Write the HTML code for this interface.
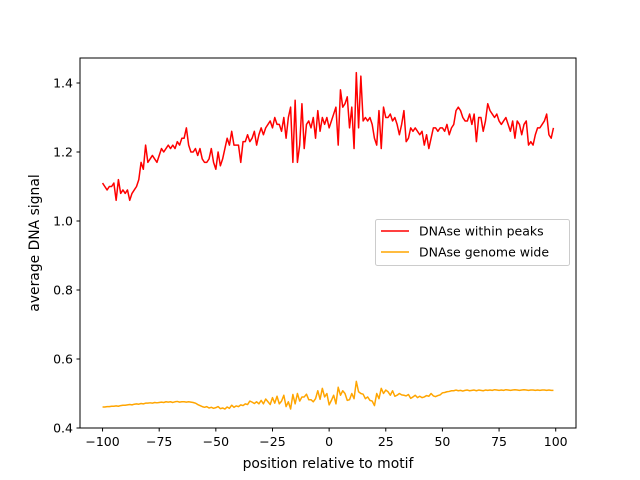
<!DOCTYPE html>
<html><head><meta charset="utf-8"><style>
body{margin:0;background:#fff;}
svg{display:block;font-family:"DejaVu Sans","Liberation Sans",sans-serif;}
</style></head><body>
<svg id="chart" width="640" height="480"></svg>
<script>
const xStart = -100;
const peaks = [
1.11,1.10,1.09,1.10,1.10,1.11,1.06,1.12,1.08,1.09,
1.08,1.09,1.06,1.08,1.09,1.10,1.12,1.17,1.15,1.22,
1.17,1.18,1.19,1.18,1.17,1.19,1.21,1.20,1.21,1.22,
1.21,1.22,1.21,1.23,1.22,1.24,1.24,1.27,1.22,1.20,
1.20,1.21,1.19,1.21,1.18,1.17,1.17,1.18,1.21,1.17,
1.15,1.20,1.16,1.18,1.21,1.24,1.22,1.26,1.22,1.22,
1.22,1.17,1.23,1.23,1.25,1.23,1.24,1.26,1.22,1.25,
1.27,1.25,1.27,1.28,1.29,1.27,1.30,1.28,1.28,1.26,
1.30,1.24,1.30,1.33,1.17,1.35,1.17,1.22,1.34,1.21,
1.28,1.29,1.27,1.30,1.24,1.32,1.26,1.30,1.28,1.30,
1.27,1.29,1.31,1.33,1.22,1.38,1.33,1.34,1.36,1.27,
1.33,1.21,1.43,1.27,1.42,1.29,1.30,1.29,1.30,1.28,
1.24,1.22,1.32,1.21,1.33,1.30,1.30,1.31,1.29,1.30,
1.28,1.25,1.28,1.32,1.23,1.24,1.27,1.26,1.27,1.26,
1.25,1.26,1.22,1.25,1.21,1.24,1.27,1.27,1.26,1.27,
1.27,1.26,1.28,1.25,1.27,1.28,1.32,1.33,1.32,1.30,
1.29,1.29,1.31,1.28,1.31,1.23,1.30,1.30,1.26,1.29,
1.34,1.32,1.31,1.30,1.31,1.29,1.28,1.29,1.30,1.28,
1.26,1.29,1.24,1.29,1.28,1.25,1.28,1.29,1.22,1.23,
1.22,1.25,1.27,1.27,1.28,1.29,1.31,1.25,1.24,1.27];
const genome = [
0.461,0.461,0.462,0.462,0.463,0.463,0.464,0.463,0.465,0.466,
0.466,0.467,0.468,0.467,0.469,0.470,0.469,0.471,0.470,0.472,
0.472,0.473,0.472,0.474,0.473,0.474,0.475,0.474,0.476,0.475,
0.476,0.474,0.476,0.477,0.475,0.476,0.476,0.475,0.476,0.475,
0.474,0.472,0.468,0.465,0.462,0.460,0.462,0.458,0.460,0.457,
0.459,0.462,0.456,0.458,0.455,0.461,0.457,0.466,0.460,0.464,
0.462,0.467,0.465,0.470,0.468,0.478,0.475,0.471,0.476,0.470,
0.480,0.470,0.484,0.476,0.468,0.488,0.472,0.492,0.470,0.478,
0.495,0.462,0.476,0.455,0.497,0.470,0.500,0.478,0.490,0.490,
0.498,0.482,0.482,0.476,0.485,0.508,0.483,0.515,0.490,0.500,
0.467,0.480,0.495,0.470,0.518,0.495,0.508,0.500,0.480,0.482,
0.500,0.485,0.535,0.505,0.500,0.498,0.485,0.490,0.480,0.478,
0.465,0.500,0.485,0.515,0.500,0.510,0.505,0.495,0.508,0.492,
0.495,0.500,0.496,0.495,0.493,0.497,0.486,0.490,0.495,0.488,
0.492,0.488,0.490,0.494,0.492,0.500,0.493,0.491,0.494,0.496,
0.502,0.503,0.505,0.506,0.508,0.508,0.510,0.508,0.509,0.507,
0.509,0.510,0.508,0.509,0.510,0.508,0.510,0.509,0.508,0.510,
0.509,0.510,0.509,0.511,0.510,0.509,0.510,0.509,0.511,0.510,
0.509,0.510,0.511,0.510,0.509,0.510,0.511,0.510,0.509,0.510,
0.510,0.509,0.510,0.509,0.510,0.510,0.509,0.510,0.509,0.509];
const xTicks = [-100,-75,-50,-25,0,25,50,75,100];
const yTicks = [0.4,0.6,0.8,1.0,1.2,1.4];
const yTickLabels = ["0.4","0.6","0.8","1.0","1.2","1.4"];

const L=80,R=576,T=58,B=428;
const xMin=-109.95,xMax=108.95,yMin=0.4,yMax=1.4725;
const sx=v=>L+(v-xMin)/(xMax-xMin)*(R-L);
const sy=v=>B-(v-yMin)/(yMax-yMin)*(B-T);
const svg=document.getElementById('chart');
const NS='http://www.w3.org/2000/svg';
function mk(tag,attrs,parent){const e=document.createElementNS(NS,tag);for(const k in attrs)e.setAttribute(k,attrs[k]);(parent||svg).appendChild(e);return e;}

function series(arr,color,name){
  const d=arr.map((v,i)=>(i?'L':'M')+sx(xStart+i).toFixed(2)+','+sy(v).toFixed(2)).join('');
  const p=mk('path',{d:d,fill:'none',stroke:color,'stroke-width':1.5,'stroke-linejoin':'round'});
  
  
}
series(peaks,'#ff0000','series-dnase-within-peaks');
series(genome,'#ffa500','series-dnase-genome-wide');

const frame=mk('rect',{x:L,y:T,width:R-L,height:B-T,fill:'none',stroke:'#000','stroke-width':1});



const FS=13.9;
xTicks.forEach(t=>{
  const x=sx(t);
  mk('line',{x1:x,x2:x,y1:B,y2:B+3.5,stroke:'#000'});
  const tx=mk('text',{x:x,y:B+18,'font-size':FS*0.9,'text-anchor':'middle'});
  tx.textContent=String(t).replace('-','\u2212');
  
  
});
yTicks.forEach((t,i)=>{
  const y=sy(t);
  mk('line',{x1:L-3.5,x2:L,y1:y,y2:y,stroke:'#000'});
  const tx=mk('text',{x:L-7,y:y+4.5,'font-size':FS*0.9,'text-anchor':'end'});
  tx.textContent=yTickLabels[i];
  
  
});
const xt=mk('text',{x:(L+R)/2,y:468,'font-size':FS,'text-anchor':'middle'});
xt.textContent='position relative to motif';


const yt=mk('text',{x:0,y:0,'font-size':FS,'text-anchor':'middle',transform:'translate(39,243) rotate(-90)'});
yt.textContent='average DNA signal';



const lg=mk('g',{});


mk('rect',{x:375.5,y:219.5,width:194,height:46,rx:2,fill:'#fff','fill-opacity':0.8,stroke:'#ccc'},lg);
[['DNAse within peaks','#ff0000',231],['DNAse genome wide','#ffa500',252]].forEach(([lab,c,y])=>{
  const g=mk('g',{},lg);
  
  
  mk('line',{x1:381,x2:409,y1:y,y2:y,stroke:c,'stroke-width':1.5},g);
  const t=mk('text',{x:419,y:y+4.5,'font-size':FS*0.9},g);
  t.textContent=lab;
});
</script>
</body></html>
